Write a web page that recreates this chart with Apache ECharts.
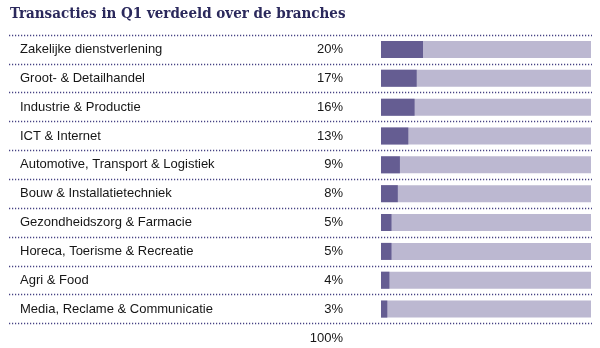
<!DOCTYPE html>
<html>
<head>
<meta charset="utf-8">
<script src="https://cdn.jsdelivr.net/npm/echarts@6/dist/echarts.min.js"></script>
<style>
html,body{margin:0;padding:0;background:#fff;}
#chart{width:600px;height:348px;}
</style>
</head>
<body>
<div id="chart"></div>
<script>
var titleText = 'Transacties in Q1 verdeeld over de branches';
var categories = [
  'Zakelijke dienstverlening',
  'Groot- & Detailhandel',
  'Industrie & Productie',
  'ICT & Internet',
  'Automotive, Transport & Logistiek',
  'Bouw & Installatietechniek',
  'Gezondheidszorg & Farmacie',
  'Horeca, Toerisme & Recreatie',
  'Agri & Food',
  'Media, Reclame & Communicatie'
];
var shares = [20, 17, 16, 13, 9, 8, 5, 5, 4, 3];
var totalLabel = '100%';
var scaleMax = 100;

var chart = echarts.init(document.getElementById('chart'), null, {renderer: 'canvas'});
var navy = '#2b295c';
var dotColor = '#464283';
var gridTop = 35, gridBottom = 24.5;

var option = {
  animation: false,
  title: {
    text: titleText,
    left: 5,
    top: 2,
    textStyle: {
      fontFamily: 'DejaVu Serif Condensed',
      fontWeight: 'bold',
      fontSize: 15,
      color: navy
    }
  },
  grid: [
    {left: 9, right: 8, top: gridTop, bottom: gridBottom, containLabel: false},
    {left: 381, right: 9, top: gridTop, bottom: gridBottom, containLabel: false}
  ],
  xAxis: [
    {gridIndex: 0, type: 'value', min: 0, max: scaleMax, show: false},
    {gridIndex: 1, type: 'value', min: 0, max: scaleMax, show: false}
  ],
  yAxis: [
    {
      gridIndex: 0, type: 'category', data: categories, inverse: true,
      position: 'left',
      axisLine: {show: false}, axisTick: {show: false},
      axisLabel: {
        inside: true, margin: 11, color: '#161616',
        fontFamily: 'Liberation Sans', fontSize: 13,
        padding: [2, 0, 0, 0]
      },
      splitLine: {show: true, lineStyle: {color: dotColor, width: 1.3, type: [1.2, 1.8]}}
    },
    {
      gridIndex: 0, type: 'category', data: shares.map(function (v) { return v + '%'; }),
      inverse: true, position: 'right', offset: -249,
      axisLine: {show: false}, axisTick: {show: false}, splitLine: {show: false},
      axisLabel: {
        inside: true, margin: 0, color: '#161616',
        fontFamily: 'Liberation Sans', fontSize: 13,
        padding: [2, 0, 0, 0]
      }
    },
    {
      gridIndex: 1, type: 'category', data: categories, inverse: true, show: false
    }
  ],
  series: [
    {
      type: 'bar',
      xAxisIndex: 1, yAxisIndex: 2,
      data: shares,
      barWidth: 17,
      showBackground: true,
      backgroundStyle: {color: '#bcb8d1'},
      itemStyle: {color: '#655d92'}
    }
  ],
  graphic: [
    {
      type: 'text',
      right: 600 - 343,
      top: 332,
      style: {
        text: totalLabel,
        fill: '#161616',
        font: '13px "Liberation Sans"'
      }
    }
  ]
};
chart.setOption(option);
</script>
</body>
</html>
